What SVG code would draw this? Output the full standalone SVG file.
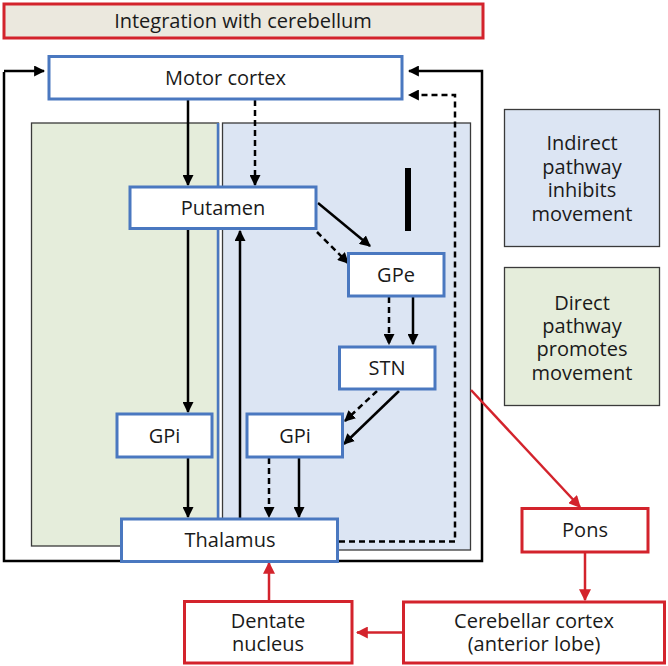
<svg xmlns="http://www.w3.org/2000/svg" width="668" height="666" viewBox="0 0 668 666">
<defs>
<style>
text{font-family:"Open Sans","Noto Sans","DejaVu Sans",sans-serif;font-size:20px;fill:#1a1a1a;text-anchor:middle;dominant-baseline:central}
.bl{fill:#fff;stroke:#4a78c0;stroke-width:3}
.rd{fill:#fff;stroke:#d3232c;stroke-width:3}
.ln{fill:none;stroke:#000;stroke-width:2.5}
.ds{fill:none;stroke:#000;stroke-width:2.5;stroke-dasharray:6 4}
.rl{fill:none;stroke:#d3232c;stroke-width:2.5}
</style>
<marker id="ah" viewBox="0 0 10 10" refX="9" refY="5" markerWidth="11" markerHeight="11" markerUnits="userSpaceOnUse" orient="auto"><path d="M0,0 L10,5 L0,10 z" fill="#000"/></marker>
<marker id="ahr" viewBox="0 0 10 10" refX="9" refY="5" markerWidth="12" markerHeight="12" markerUnits="userSpaceOnUse" orient="auto"><path d="M0,0 L10,5 L0,10 z" fill="#d3232c"/></marker>
</defs>
<rect width="668" height="666" fill="#fff"/>
<g id="panels">
<rect x="31.5" y="123" width="187" height="423" fill="#e5eddb" stroke="#3a3a3a" stroke-width="1.3"/>
<line x1="218" y1="123" x2="218" y2="519" stroke="#4a78c0" stroke-width="2.5"/>
<rect x="222.5" y="123" width="248" height="427" fill="#dce5f3" stroke="#3a3a3a" stroke-width="1.3"/>
<rect id="bar" x="405" y="168" width="6" height="63" fill="#000"/>
</g>
<g id="title"><rect x="4" y="4" width="479" height="34" fill="#ebe8de" stroke="#d3232c" stroke-width="3"/><text x="243" y="20.5">Integration with cerebellum</text></g>
<g id="legend-indirect"><rect x="504.5" y="109.5" width="155" height="137" fill="#dce5f3" stroke="#3a3a3a" stroke-width="1.3"/><text x="582" y="142">Indirect</text><text x="582" y="166">pathway</text><text x="582" y="189">inhibits</text><text x="582" y="213">movement</text></g>
<g id="legend-direct"><rect x="504.5" y="267.5" width="155" height="138" fill="#e5eddb" stroke="#3a3a3a" stroke-width="1.3"/><text x="582" y="302">Direct</text><text x="582" y="325">pathway</text><text x="582" y="348">promotes</text><text x="582" y="372">movement</text></g>
<g id="connectors">
<path class="ln" d="M4,72 V561 H482 V71 H409" marker-end="url(#ah)"/>
<path class="ln" d="M4,71 H44" marker-end="url(#ah)"/>
<path class="ds" d="M339,541.5 H455 V95 H409" marker-end="url(#ah)"/>
<path class="ln" d="M188,100 V185" marker-end="url(#ah)"/>
<path class="ds" d="M255,100 V185" marker-end="url(#ah)"/>
<path class="ln" d="M188,229 V412" marker-end="url(#ah)"/>
<path class="ln" d="M188,458 V517" marker-end="url(#ah)"/>
<path class="ln" d="M318,203 L370,246" marker-end="url(#ah)"/>
<path class="ds" d="M317,232 L348,263" marker-end="url(#ah)"/>
<path class="ds" d="M389,297 V344" marker-end="url(#ah)"/>
<path class="ln" d="M413,297 V344" marker-end="url(#ah)"/>
<path class="ds" d="M377,391 L345,421" marker-end="url(#ah)"/>
<path class="ln" d="M399,391 L344,444" marker-end="url(#ah)"/>
<path class="ds" d="M269,458 V517" marker-end="url(#ah)"/>
<path class="ln" d="M299,458 V517" marker-end="url(#ah)"/>
<path class="ln" d="M240,519 V231" marker-end="url(#ah)"/>
<path class="rl" d="M471,390 L580,507" marker-end="url(#ahr)"/>
<path class="rl" d="M585,553 V600" marker-end="url(#ahr)"/>
<path class="rl" d="M403,632.5 H357" marker-end="url(#ahr)"/>
<path class="rl" d="M269,601 V563" marker-end="url(#ahr)"/>
</g>
<g id="motor-cortex"><rect class="bl" x="49" y="56.5" width="353" height="42.5"/><text x="225.5" y="77.5">Motor cortex</text></g>
<g id="putamen"><rect class="bl" x="130" y="187" width="186" height="41.5"/><text x="223" y="207.5">Putamen</text></g>
<g id="gpe"><rect class="bl" x="348.5" y="253.5" width="95.5" height="42.5"/><text x="396" y="274.5">GPe</text></g>
<g id="stn"><rect class="bl" x="339.5" y="347" width="95.5" height="42"/><text x="387" y="367.5">STN</text></g>
<g id="gpi-direct"><rect class="bl" x="117" y="414" width="95" height="43"/><text x="164.5" y="435">GPi</text></g>
<g id="gpi-indirect"><rect class="bl" x="247" y="414" width="95.5" height="43"/><text x="295" y="435">GPi</text></g>
<g id="thalamus"><rect class="bl" x="121.5" y="519" width="216" height="42.5"/><text x="230" y="539.5">Thalamus</text></g>
<g id="pons"><rect class="rd" x="522" y="508.5" width="126" height="43.5"/><text x="585" y="529.5">Pons</text></g>
<g id="cerebellar-cortex"><rect class="rd" x="403.5" y="602" width="261" height="61"/><text x="534" y="620">Cerebellar cortex</text><text x="534" y="643">(anterior lobe)</text></g>
<g id="dentate"><rect class="rd" x="184.5" y="601.5" width="167.5" height="61.5"/><text x="268" y="620">Dentate</text><text x="268" y="643">nucleus</text></g>
</svg>
